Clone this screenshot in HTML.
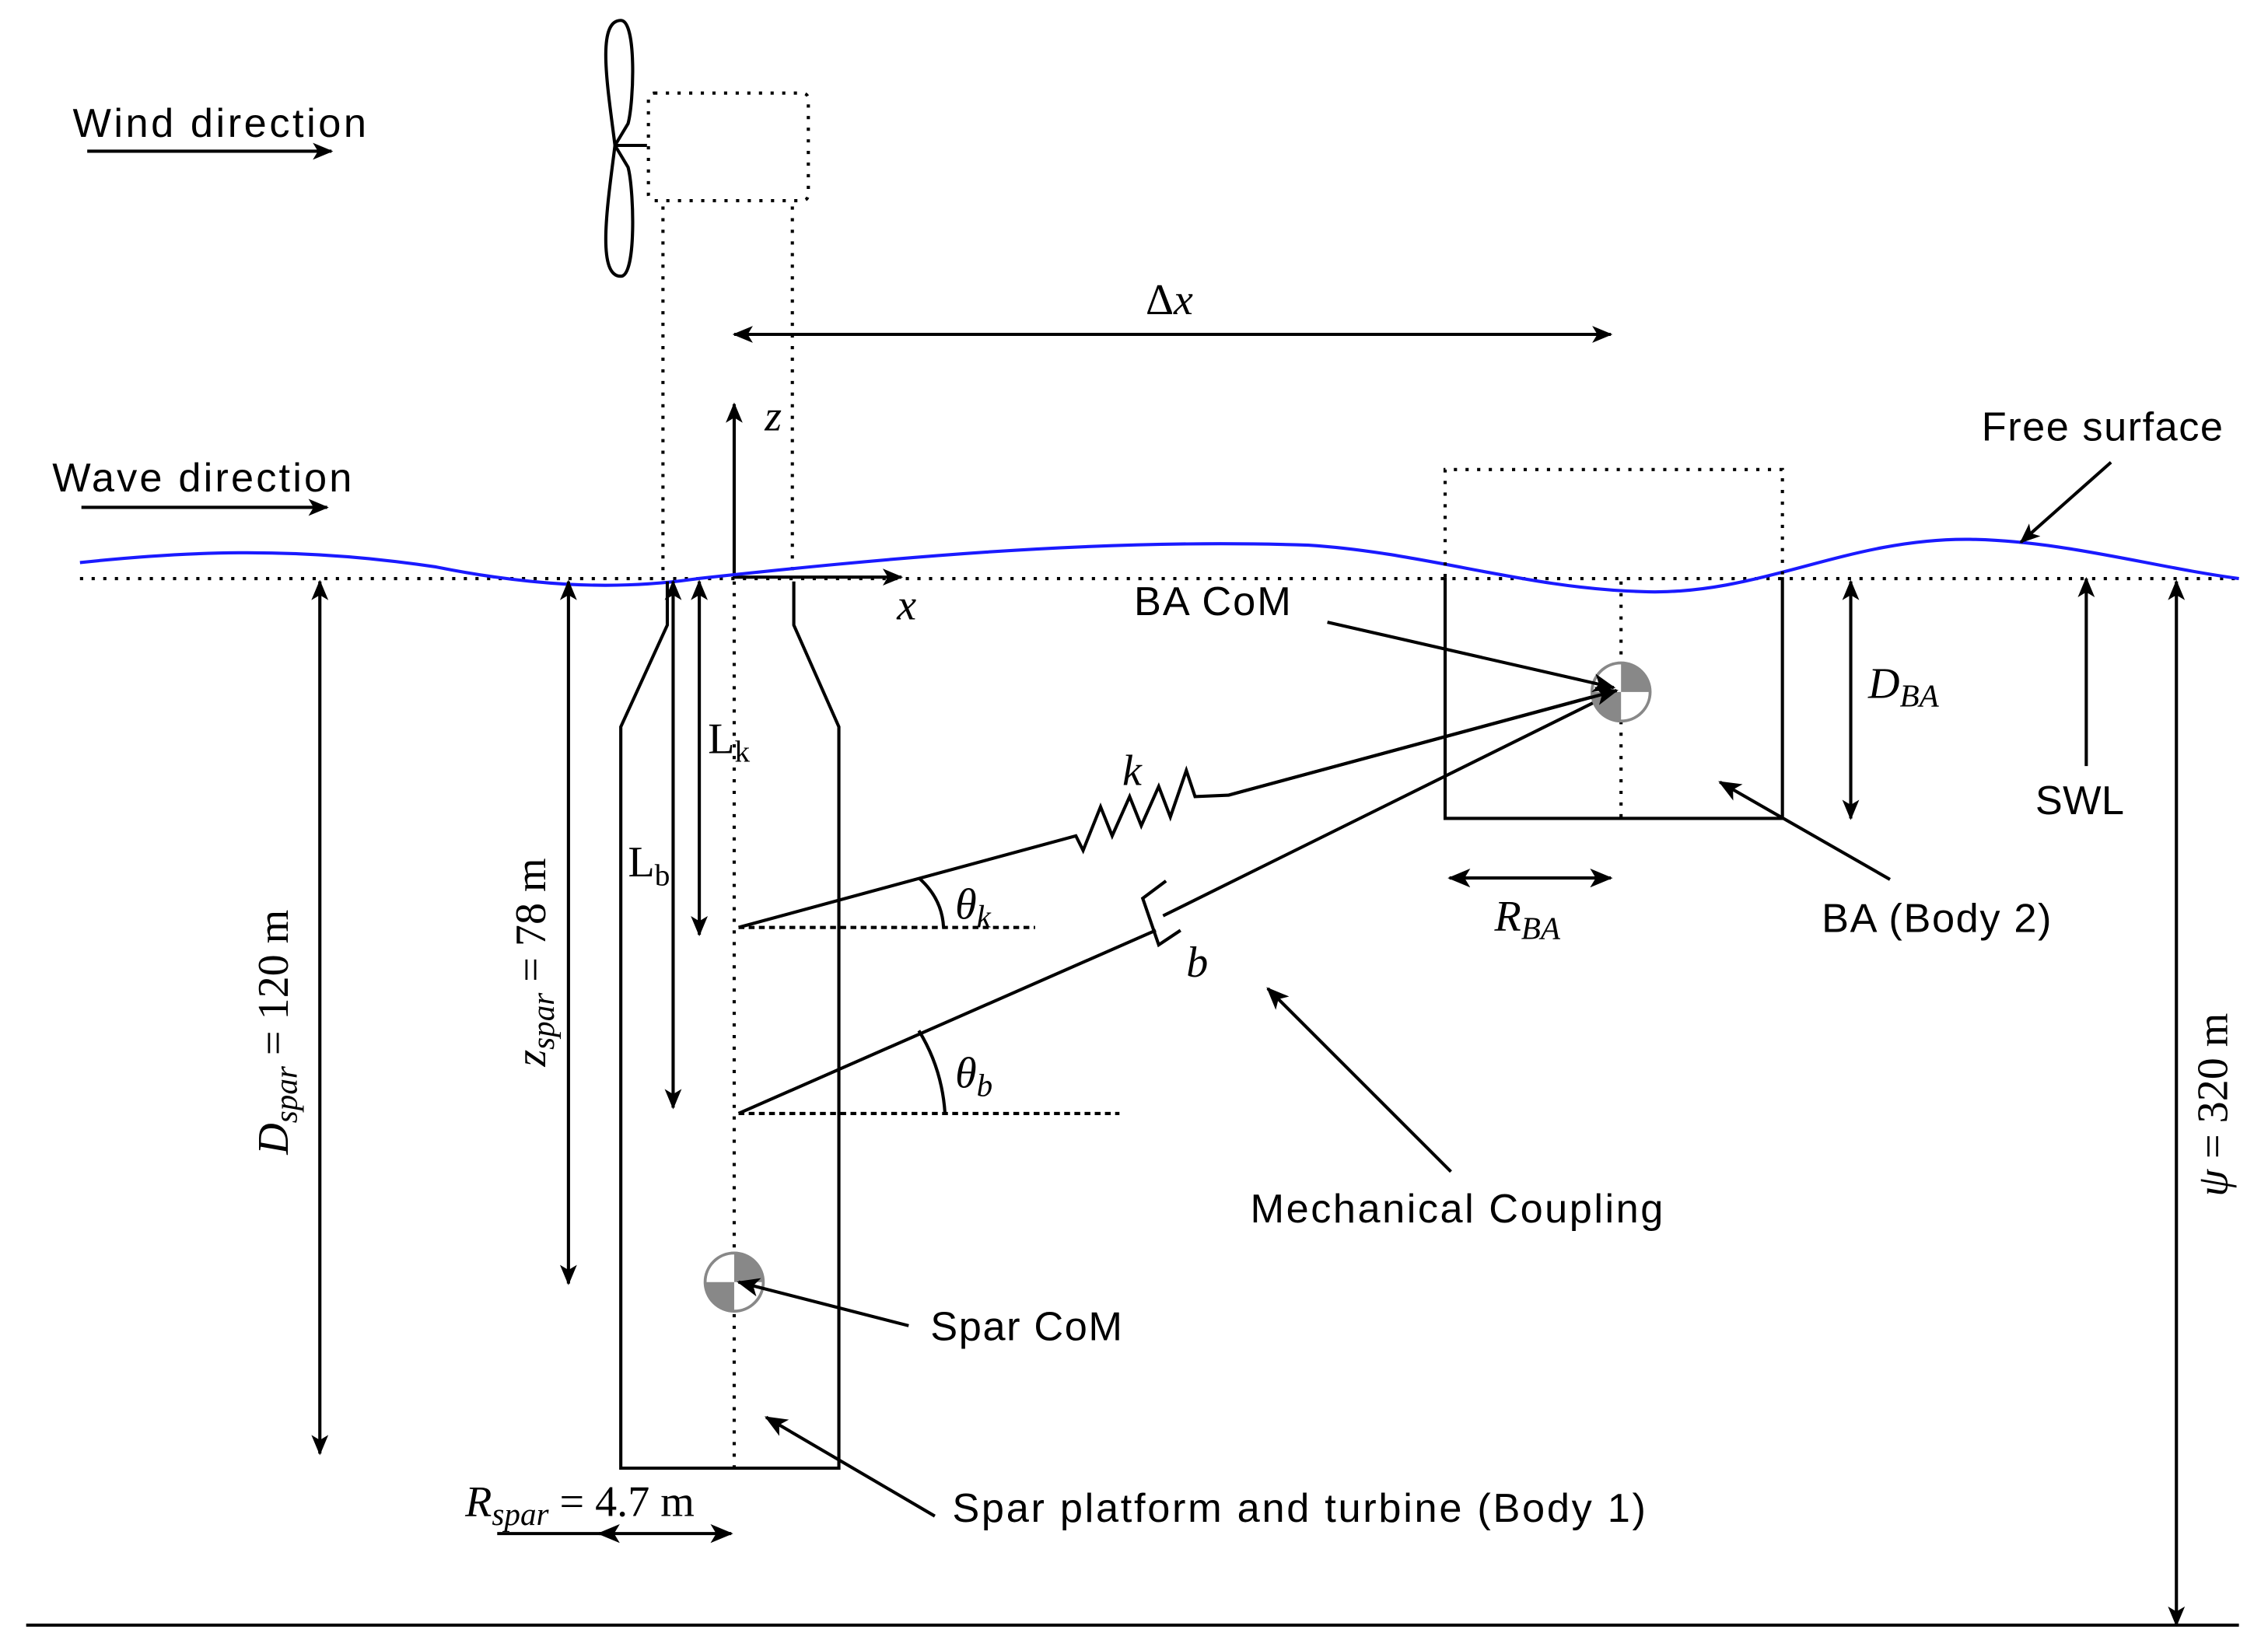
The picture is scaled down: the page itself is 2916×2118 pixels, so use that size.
<!DOCTYPE html>
<html><head><meta charset="utf-8"><style>html,body{margin:0;padding:0;background:#fff}svg{display:block}</style></head>
<body>
<svg width="2916" height="2118" viewBox="0 0 1560 1133" xmlns="http://www.w3.org/2000/svg">
<defs>
<marker id="a" viewBox="0 0 12 10" refX="11" refY="5" markerWidth="14" markerHeight="12" orient="auto-start-reverse" markerUnits="userSpaceOnUse">
<path d="M0,0 L12,5 L0,10 L3,5 Z" fill="#000"/></marker>
<marker id="b" viewBox="0 0 12 10" refX="11" refY="5" markerWidth="16" markerHeight="13" orient="auto-start-reverse" markerUnits="userSpaceOnUse">
<path d="M0,0 L12,5 L0,10 L3,5 Z" fill="#000"/></marker>
</defs>
<style>
.s{stroke:#000;stroke-width:2.2;fill:none}
.d{stroke:#000;stroke-width:2.2;fill:none;stroke-dasharray:2.2 5.8}
.e{stroke:#000;stroke-width:2.2;fill:none;stroke-dasharray:4 3}
.t{font-family:"Liberation Sans",sans-serif;font-size:28px;fill:#000}
.m{font-family:"Liberation Serif",serif;font-style:italic;font-size:30px;fill:#000}
.r{font-family:"Liberation Serif",serif;font-size:30px;fill:#000}
</style>
<text class="t" x="50" y="94" textLength="202">Wind direction</text>
<line class="s" x1="60" y1="104" x2="228" y2="104" marker-end="url(#a)"/>
<path class="s" d="M423,100 C418,60 410,14 427,14 C438,14 436,70 432,85 Z"/>
<path class="s" d="M423,100 C418,140 410,190 427,190 C438,190 436,130 432,115 Z"/>
<line class="s" x1="423" y1="100" x2="445" y2="100"/>
<rect class="d" x="446" y="64" width="110" height="74" rx="4"/>
<line class="d" x1="456" y1="142" x2="456" y2="397"/>
<line class="d" x1="545" y1="142" x2="545" y2="397"/>
<text class="m" x="788" y="216"><tspan font-style="normal">Δ</tspan>x</text>
<line class="s" x1="505" y1="230" x2="1108" y2="230" marker-start="url(#a)" marker-end="url(#a)"/>
<line class="s" x1="505" y1="397" x2="505" y2="278" marker-end="url(#a)"/>
<text class="m" x="526" y="296">z</text>
<line class="s" x1="505" y1="397" x2="620" y2="397" marker-end="url(#a)"/>
<text class="m" x="617" y="426">x</text>
<text class="t" x="36" y="338" textLength="206">Wave direction</text>
<line class="s" x1="56" y1="349" x2="225" y2="349" marker-end="url(#a)"/>
<line class="d" x1="55" y1="398" x2="1540" y2="398"/>
<path d="M55,387 C120,380 200,375 300,390 C360,402 420,407 480,398 C600,385 750,370 900,375 C980,380 1050,405 1130,407 C1210,410 1270,370 1355,371 C1420,372 1480,390 1540,398" stroke="#1a1aff" stroke-width="2.2" fill="none"/>
<text class="t" x="1363" y="303" textLength="166">Free surface</text>
<line class="s" x1="1452" y1="318" x2="1390" y2="373" marker-end="url(#a)"/>
<path class="s" d="M459,400 L459,430 L427,500 L427,1010 L577,1010 L577,500 L546,430 L546,400"/>
<line class="d" x1="505" y1="400" x2="505" y2="1010"/>
<line class="s" x1="481" y1="400" x2="481" y2="643" marker-start="url(#a)" marker-end="url(#a)"/>
<line class="s" x1="463" y1="400" x2="463" y2="762" marker-start="url(#a)" marker-end="url(#a)"/>
<text class="r" x="487" y="518">L<tspan font-size="21" dy="6">k</tspan></text>
<text class="r" x="432" y="603">L<tspan font-size="21" dy="6">b</tspan></text>
<line class="s" x1="391" y1="400" x2="391" y2="883" marker-start="url(#a)" marker-end="url(#a)"/>
<text class="m" transform="translate(375,662) rotate(-90)" text-anchor="middle">z<tspan font-size="22" dy="6">spar</tspan><tspan dy="-6" font-style="normal"> = 78 m</tspan></text>
<line class="s" x1="220" y1="400" x2="220" y2="1000" marker-start="url(#a)" marker-end="url(#a)"/>
<text class="m" transform="translate(198,710) rotate(-90)" text-anchor="middle">D<tspan font-size="22" dy="6">spar</tspan><tspan dy="-6" font-style="normal"> = 120 m</tspan></text>
<line class="s" x1="1497" y1="400" x2="1497" y2="1118" marker-start="url(#a)" marker-end="url(#a)"/>
<text class="m" transform="translate(1532,760) rotate(-90)" text-anchor="middle">ψ<tspan font-style="normal"> = 320 m</tspan></text>
<polyline class="s" points="508,638 740,575 745,585 757,555 765,575 777,548 785,568 797,541 805,562 816,530 822,548 845,547 1115,474"/>
<text class="m" x="772" y="540">k</text>
<line class="e" x1="508" y1="638" x2="712" y2="638"/>
<path class="s" d="M632,604 Q648,618 649,638"/>
<text class="m" x="657" y="632">θ<tspan font-size="22" dy="6">k</tspan></text>
<line class="s" x1="508" y1="766" x2="795" y2="640"/>
<path class="s" d="M802,606 L786,618 L797,650 L812,640"/>
<line class="s" x1="800" y1="630" x2="1115" y2="474"/>
<text class="m" x="816" y="672">b</text>
<line class="e" x1="508" y1="766" x2="770" y2="766"/>
<path class="s" d="M632,709 Q648,735 650,766"/>
<text class="m" x="657" y="748">θ<tspan font-size="22" dy="6">b</tspan></text>
<g transform="translate(505,882)">
<circle r="20" fill="#fff" stroke="#888" stroke-width="2"/>
<path d="M0,0 L20,0 A20,20 0 0 0 0,-20 Z M0,0 L-20,0 A20,20 0 0 0 0,20 Z" fill="#888"/>
</g>
<text class="t" x="640" y="922" textLength="132">Spar CoM</text>
<line class="s" x1="625" y1="912" x2="508" y2="882" marker-end="url(#b)"/>
<text class="t" x="655" y="1047" textLength="477">Spar platform and turbine (Body 1)</text>
<line class="s" x1="643" y1="1043" x2="527" y2="975" marker-end="url(#b)"/>
<text class="m" x="320" y="1043">R<tspan font-size="22" dy="6">spar</tspan><tspan dy="-6" font-style="normal"> = 4.7 m</tspan></text>
<line class="s" x1="342" y1="1055" x2="420" y2="1055"/>
<line class="s" x1="412" y1="1055" x2="503" y2="1055" marker-start="url(#b)" marker-end="url(#b)"/>
<path class="d" d="M994,397 L994,323 L1226,323 L1226,397"/>
<path class="s" d="M994,397 L994,563 L1226,563 L1226,397"/>
<line class="d" x1="1115" y1="400" x2="1115" y2="563"/>
<g transform="translate(1115,476)">
<circle r="20" fill="#fff" stroke="#888" stroke-width="2"/>
<path d="M0,0 L20,0 A20,20 0 0 0 0,-20 Z M0,0 L-20,0 A20,20 0 0 0 0,20 Z" fill="#888"/>
</g>
<line class="s" x1="845" y1="547" x2="1112" y2="475" marker-end="url(#b)"/>
<text class="t" x="780" y="423" textLength="108">BA CoM</text>
<line class="s" x1="913" y1="428" x2="1110" y2="473" marker-end="url(#b)"/>
<line class="s" x1="1273" y1="400" x2="1273" y2="563" marker-start="url(#a)" marker-end="url(#a)"/>
<text class="m" x="1285" y="480">D<tspan font-size="22" dy="6">BA</tspan></text>
<line class="s" x1="1435" y1="527" x2="1435" y2="398" marker-end="url(#a)"/>
<text class="t" x="1400" y="560" textLength="61">SWL</text>
<line class="s" x1="997" y1="604" x2="1108" y2="604" marker-start="url(#b)" marker-end="url(#b)"/>
<text class="m" x="1028" y="640">R<tspan font-size="22" dy="6">BA</tspan></text>
<text class="t" x="1253" y="641" textLength="158">BA (Body 2)</text>
<line class="s" x1="1300" y1="605" x2="1183" y2="538" marker-end="url(#b)"/>
<text class="t" x="860" y="841" textLength="284">Mechanical Coupling</text>
<line class="s" x1="998" y1="806" x2="872" y2="680" stroke-width="1.6" marker-end="url(#b)"/>
<line class="s" x1="18" y1="1118" x2="1540" y2="1118"/>
</svg>
</body></html>
